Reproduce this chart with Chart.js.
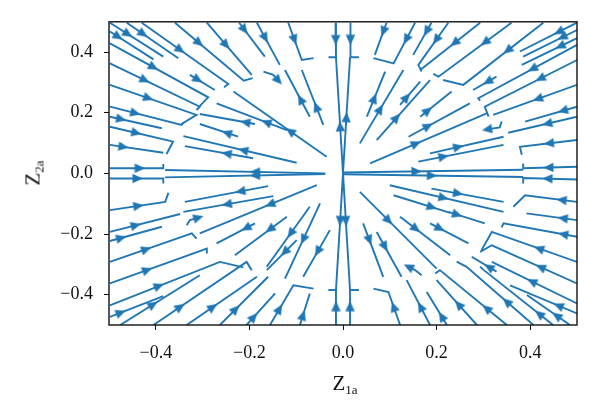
<!DOCTYPE html>
<html>
<head>
<meta charset="utf-8">
<script src="https://cdn.jsdelivr.net/npm/chart.js@4.4.1/dist/chart.umd.min.js"></script>
<style>
  html, body { margin: 0; padding: 0; background: #fff; }
  #wrap { position: relative; width: 600px; height: 418px; }
  #wrap canvas { position: absolute; left: 0; top: 0; }
  .axlab { position: absolute; font-family: 'Liberation Serif', serif; font-size: 21px; color: #111; white-space: nowrap; line-height: 1; }
  .axlab sub { font-size: 13px; vertical-align: -4px; }
  #xlab { left: 345px; top: 373px; transform: translateX(-50%); }
  #ylab { left: 34px; top: 173px; transform: translate(-50%, -50%) rotate(-90deg); }
</style>
</head>
<body>
<div id="wrap">
  <canvas id="c" width="600" height="418"></canvas>
  <div id="xlab" class="axlab">Z<sub>1a</sub></div>
  <div id="ylab" class="axlab">Z<sub>2a</sub></div>
</div>
<script>
// streamlines, listed in the direction of flow; one arrow position per line
const xTickValues = [-0.4, -0.2, 0.0, 0.2, 0.4];
const yTickValues = [-0.4, -0.2, 0.0, 0.2, 0.4];

// upper left
const ulLines = [
  [[-0.498,0.497],[-0.384,0.385]],
  [[-0.498,0.468],[-0.405,0.376]],
  [[-0.462,0.497],[-0.352,0.380]],
  [[-0.430,0.497],[-0.245,0.295],[-0.254,0.284]],
  [[-0.359,0.497],[-0.212,0.306],[-0.193,0.314]],
  [[-0.291,0.497],[-0.195,0.325]],
  [[-0.222,0.497],[-0.167,0.385]],
  [[-0.184,0.497],[-0.135,0.358]],
  [[-0.117,0.497],[-0.088,0.374],[-0.063,0.380]],
  [[-0.016,0.497],[-0.015,0.383],[-0.031,0.383]],
  [[-0.498,0.429],[-0.288,0.251],[-0.309,0.218]],
  [[-0.498,0.363],[-0.306,0.220],[-0.313,0.209]],
  [[-0.498,0.292],[-0.313,0.193],[-0.345,0.163]],
  [[-0.498,0.220],[-0.345,0.160],[-0.341,0.167]],
  [[-0.498,0.187],[-0.387,0.149]],
  [[-0.498,0.154],[-0.363,0.105],[-0.377,0.064]],
  [[-0.498,0.094],[-0.384,0.068]],
  [[-0.498,0.017],[-0.384,0.017],[-0.384,0.031]],
  [[-0.035,0.055],[-0.234,0.270]],
  [[-0.120,0.143],[-0.270,0.231]],
  [[-0.188,0.163],[-0.306,0.196]],
  [[-0.099,0.035],[-0.341,0.123]],
  [[-0.224,0.121],[-0.306,0.163]],
  [[-0.192,0.050],[-0.338,0.090]],
  [[-0.038,0.000],[-0.380,0.011]],
  [[-0.071,0.187],[-0.124,0.341]],
  [[-0.042,0.160],[-0.088,0.341]],
  [[-0.327,0.325],[-0.274,0.275]],
  [[-0.170,0.336],[-0.149,0.325],[-0.138,0.306]],
  [[0.000,0.000],[-0.015,0.383]]
];
const ulArrows = [
  [-0.459,0.460],[-0.480,0.451],[-0.427,0.460],[-0.348,0.407],[-0.309,0.429],
  [-0.249,0.424],[-0.212,0.473],[-0.167,0.446],[-0.106,0.440],[-0.016,0.440],
  [-0.405,0.350],[-0.423,0.308],[-0.416,0.248],[-0.444,0.198],[-0.473,0.182],
  [-0.441,0.135],[-0.469,0.088],[-0.434,0.015],
  [-0.099,0.152],[-0.156,0.182],[-0.206,0.178],[-0.213,0.077],[-0.249,0.132],
  [-0.249,0.064],[-0.188,0.006],[-0.092,0.244],[-0.056,0.220],[-0.309,0.310],
  [-0.138,0.306],[-0.005,0.155]
];

// upper right
const urLines = [
  [[0.500,0.497],[0.378,0.402]],
  [[0.500,0.473],[0.385,0.385]],
  [[0.500,0.446],[0.382,0.358]],
  [[0.428,0.497],[0.257,0.292],[0.214,0.308]],
  [[0.360,0.497],[0.204,0.319],[0.193,0.328]],
  [[0.293,0.497],[0.165,0.341]],
  [[0.225,0.497],[0.161,0.358],[0.168,0.336]],
  [[0.189,0.497],[0.150,0.391]],
  [[0.154,0.497],[0.108,0.363],[0.065,0.380]],
  [[0.093,0.497],[0.068,0.391]],
  [[0.016,0.497],[0.016,0.383],[0.034,0.383]],
  [[0.500,0.374],[0.303,0.220],[0.311,0.187]],
  [[0.500,0.424],[0.289,0.248],[0.293,0.240]],
  [[0.500,0.292],[0.321,0.193]],
  [[0.500,0.220],[0.389,0.171]],
  [[0.500,0.187],[0.353,0.134]],
  [[0.500,0.110],[0.378,0.088],[0.382,0.061]],
  [[0.500,0.022],[0.385,0.017],[0.385,0.033]],
  [[0.328,0.319],[0.278,0.275]],
  [[0.058,0.033],[0.307,0.198]],
  [[0.140,0.121],[0.271,0.231]],
  [[0.165,0.187],[0.232,0.270]],
  [[0.122,0.226],[0.165,0.303]],
  [[0.072,0.110],[0.186,0.308]],
  [[0.036,0.099],[0.129,0.341]],
  [[0.051,0.187],[0.090,0.336]],
  [[0.161,0.039],[0.343,0.094]],
  [[0.186,0.066],[0.343,0.121]],
  [[0.339,0.171],[0.335,0.152],[0.308,0.145]],
  [[0.000,0.003],[0.385,0.012]],
  [[0.000,0.000],[0.015,0.383]]
];
const urArrows = [
  [0.449,0.482],[0.460,0.460],[0.457,0.429],[0.350,0.407],[0.307,0.429],
  [0.246,0.424],[0.200,0.440],[0.180,0.468],[0.140,0.440],[0.086,0.468],
  [0.016,0.440],[0.425,0.308],[0.403,0.347],[0.415,0.248],[0.468,0.211],
  [0.436,0.165],[0.439,0.105],[0.439,0.020],[0.304,0.308],
  [0.157,0.097],[0.182,0.156],[0.182,0.207],[0.136,0.251],[0.118,0.182],
  [0.083,0.211],[0.065,0.248],[0.215,0.055],[0.246,0.088],[0.308,0.145],
  [0.157,0.006],[0.009,0.185]
];

// lower left
const llLines = [
  [[-0.498,-0.121],[-0.380,-0.094],[-0.373,-0.064]],
  [[-0.498,-0.193],[-0.348,-0.134]],
  [[-0.498,-0.223],[-0.387,-0.176]],
  [[-0.498,-0.292],[-0.323,-0.198],[-0.313,-0.215]],
  [[-0.498,-0.363],[-0.291,-0.248],[-0.291,-0.264]],
  [[-0.498,-0.435],[-0.263,-0.292],[-0.213,-0.310]],
  [[-0.498,-0.473],[-0.384,-0.405]],
  [[-0.476,-0.500],[-0.306,-0.336]],
  [[-0.405,-0.500],[-0.206,-0.292],[-0.195,-0.319]],
  [[-0.334,-0.500],[-0.184,-0.341]],
  [[-0.263,-0.500],[-0.160,-0.341]],
  [[-0.206,-0.500],[-0.145,-0.396]],
  [[-0.156,-0.500],[-0.106,-0.369],[-0.063,-0.380]],
  [[-0.092,-0.500],[-0.071,-0.396]],
  [[-0.015,-0.500],[-0.015,-0.385],[-0.031,-0.385]],
  [[-0.498,-0.017],[-0.384,-0.017],[-0.384,-0.033]],
  [[-0.160,-0.042],[-0.338,-0.094]],
  [[-0.149,-0.075],[-0.341,-0.127]],
  [[-0.056,-0.039],[-0.306,-0.198]],
  [[-0.188,-0.165],[-0.270,-0.231]],
  [[-0.120,-0.143],[-0.231,-0.270]],
  [[-0.071,-0.110],[-0.163,-0.308]],
  [[-0.028,-0.187],[-0.085,-0.341]],
  [[-0.099,-0.220],[-0.163,-0.319]],
  [[-0.049,-0.099],[-0.124,-0.347]],
  [[-0.334,-0.171],[-0.327,-0.154],[-0.309,-0.146]],
  [[-0.038,-0.002],[-0.380,-0.013]],
  [[0.000,0.000],[-0.015,-0.385],[-0.031,-0.385]]
];
const llArrows = [
  [-0.437,-0.108],[-0.444,-0.168],[-0.473,-0.215],[-0.420,-0.251],[-0.423,-0.310],
  [-0.405,-0.352],[-0.476,-0.457],[-0.409,-0.429],[-0.348,-0.440],[-0.284,-0.435],
  [-0.227,-0.449],[-0.192,-0.473],[-0.138,-0.446],[-0.085,-0.468],[-0.015,-0.438],
  [-0.439,-0.017],
  [-0.220,-0.057],[-0.249,-0.099],[-0.156,-0.102],[-0.206,-0.182],[-0.156,-0.185],
  [-0.113,-0.198],[-0.067,-0.253],[-0.135,-0.253],[-0.078,-0.220],[-0.309,-0.146],
  [-0.188,-0.004],[-0.007,-0.157]
];

// lower right
const lrLines = [
  [[0.500,-0.094],[0.389,-0.072],[0.364,-0.110]],
  [[0.500,-0.154],[0.392,-0.132]],
  [[0.500,-0.209],[0.343,-0.165],[0.339,-0.178]],
  [[0.500,-0.292],[0.318,-0.193],[0.296,-0.253]],
  [[0.500,-0.363],[0.318,-0.237],[0.293,-0.259]],
  [[0.500,-0.429],[0.318,-0.292]],
  [[0.500,-0.462],[0.357,-0.369]],
  [[0.485,-0.500],[0.393,-0.401]],
  [[0.449,-0.500],[0.301,-0.319],[0.293,-0.308]],
  [[0.407,-0.500],[0.264,-0.308],[0.243,-0.291]],
  [[0.350,-0.500],[0.207,-0.319],[0.197,-0.330]],
  [[0.286,-0.500],[0.200,-0.352]],
  [[0.222,-0.500],[0.179,-0.391]],
  [[0.186,-0.500],[0.136,-0.352]],
  [[0.122,-0.500],[0.097,-0.391],[0.065,-0.380]],
  [[0.015,-0.500],[0.015,-0.385],[0.034,-0.385]],
  [[0.500,-0.020],[0.385,-0.015],[0.385,-0.033]],
  [[0.036,-0.061],[0.200,-0.314]],
  [[0.100,-0.039],[0.343,-0.127]],
  [[0.189,-0.050],[0.343,-0.094]],
  [[0.108,-0.072],[0.229,-0.130]],
  [[0.122,-0.143],[0.229,-0.270]],
  [[0.186,-0.165],[0.268,-0.231]],
  [[0.225,-0.127],[0.303,-0.165]],
  [[0.043,-0.165],[0.086,-0.341]],
  [[0.072,-0.193],[0.125,-0.341]],
  [[0.328,-0.324],[0.275,-0.275]],
  [[0.168,-0.336],[0.154,-0.319],[0.140,-0.308]],
  [[0.000,-0.003],[0.385,-0.012]],
  [[0.000,0.000],[0.015,-0.385],[0.034,-0.385]]
];
const lrArrows = [
  [0.467,-0.088],[0.471,-0.141],[0.474,-0.189],[0.417,-0.251],[0.421,-0.311],
  [0.407,-0.352],[0.460,-0.437],[0.456,-0.470],[0.421,-0.462],[0.350,-0.423],
  [0.307,-0.445],[0.246,-0.433],[0.207,-0.473],[0.165,-0.440],[0.108,-0.440],
  [0.015,-0.438],[0.437,-0.017],
  [0.100,-0.154],[0.214,-0.083],[0.246,-0.066],[0.186,-0.119],[0.157,-0.182],
  [0.207,-0.182],[0.246,-0.132],[0.058,-0.220],[0.090,-0.242],[0.307,-0.314],
  [0.140,-0.308],[0.190,-0.007],[0.009,-0.157]
];

const lineColor = '#2077b4';

// arrowhead drawn once, pointing up
const arrowImg = document.createElement('canvas');
arrowImg.width = 11; arrowImg.height = 11;
(function () {
  const g = arrowImg.getContext('2d');
  g.fillStyle = lineColor;
  g.beginPath();
  g.moveTo(5.5, 0.3);
  g.lineTo(10.2, 10.5);
  g.lineTo(0.8, 10.5);
  g.closePath();
  g.fill();
})();

const lineSets = [];
const arrowPts = [];
[[ulLines, ulArrows], [urLines, urArrows], [llLines, llArrows], [lrLines, lrArrows]].forEach(([lines, arrows]) => {
  lines.forEach((pts, i) => {
    lineSets.push({
      data: pts.map(p => ({ x: p[0], y: p[1] })),
      showLine: true,
      borderColor: lineColor,
      borderWidth: 1.9,
      pointRadius: 0,
      fill: false
    });
    const a = arrows[i];
    if (!a) return;
    // snap the arrow onto the closest segment of its line, take that segment's direction
    let best = null;
    for (let k = 0; k < pts.length - 1; k++) {
      const [x1, y1] = pts[k], [x2, y2] = pts[k + 1];
      const vx = x2 - x1, vy = y2 - y1;
      let t = ((a[0] - x1) * vx + (a[1] - y1) * vy) / (vx * vx + vy * vy);
      t = Math.max(0, Math.min(1, t));
      const px = x1 + t * vx, py = y1 + t * vy;
      const d = (px - a[0]) ** 2 + (py - a[1]) ** 2;
      if (!best || d < best.d) best = { d, x: px, y: py, dx: vx, dy: vy };
    }
    arrowPts.push(best);
  });
});

const arrowSet = {
  data: arrowPts.map(a => ({ x: a.x, y: a.y })),
  showLine: false,
  pointStyle: arrowImg,
  pointRadius: 5,
  pointRotation: (c) => {
    const a = arrowPts[c.dataIndex];
    if (!a) return 0;
    const xs = c.chart.scales.x, ys = c.chart.scales.y;
    const dx = xs.getPixelForValue(a.x + a.dx) - xs.getPixelForValue(a.x);
    const dy = ys.getPixelForValue(a.y + a.dy) - ys.getPixelForValue(a.y);
    return Math.atan2(dx, -dy) * 180 / Math.PI;
  }
};

const fmt = v => (v < -1e-9 ? '\u2212' : '') + Math.abs(v).toFixed(1);
const tickFont = { family: "'Liberation Serif', serif", size: 18 };

const frame = {
  id: 'frame',
  afterDatasetsDraw(chart) {
    const { ctx, chartArea: a } = chart;
    ctx.save();
    ctx.strokeStyle = '#111';
    ctx.lineWidth = 1.4;
    ctx.strokeRect(a.left, a.top, a.right - a.left, a.bottom - a.top);
    ctx.restore();
  }
};

new Chart(document.getElementById('c'), {
  type: 'scatter',
  data: { datasets: [...lineSets, arrowSet] },
  options: {
    responsive: false,
    animation: false,
    events: [],
    layout: { padding: { top: 21, right: 23, left: 0, bottom: 0 } },
    plugins: { legend: { display: false }, tooltip: { enabled: false } },
    scales: {
      x: {
        type: 'linear', min: -0.5, max: 0.5,
        afterBuildTicks: s => { s.ticks = xTickValues.map(v => ({ value: v })); },
        afterFit: s => { s.height = 93; },
        border: { display: false },
        grid: { display: true, drawOnChartArea: false, drawTicks: true, tickLength: 5, color: '#111', lineWidth: 1 },
        ticks: { color: '#111', font: tickFont, padding: 12, maxRotation: 0, callback: v => fmt(v) }
      },
      y: {
        type: 'linear', min: -0.5, max: 0.5,
        afterBuildTicks: s => { s.ticks = yTickValues.map(v => ({ value: v })); },
        afterFit: s => { s.width = 109; },
        border: { display: false },
        grid: { display: true, drawOnChartArea: false, drawTicks: true, tickLength: 5, color: '#111', lineWidth: 1 },
        ticks: { color: '#111', font: tickFont, padding: 11, callback: v => fmt(v) }
      }
    }
  },
  plugins: [frame]
});
</script>
</body>
</html>
